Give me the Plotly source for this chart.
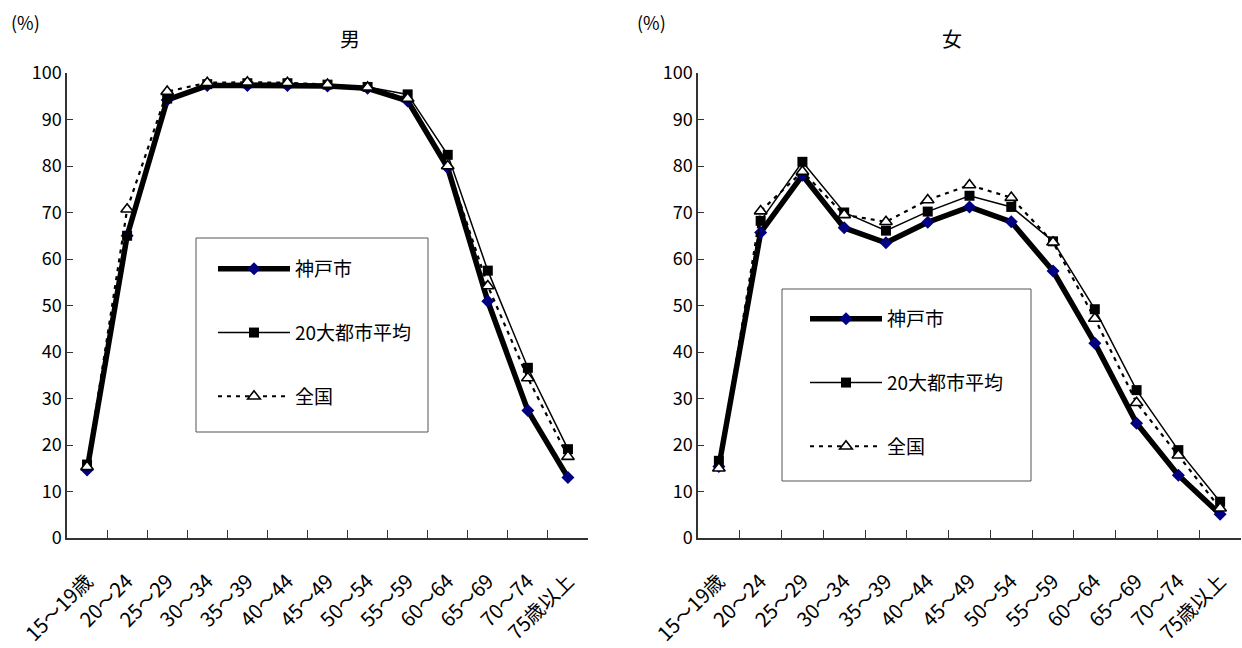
import plotly.graph_objects as go

# Age groups (x categories)
age_groups = ["15～19歳", "20～24", "25～29", "30～34", "35～39", "40～44", "45～49",
              "50～54", "55～59", "60～64", "65～69", "70～74", "75歳以上"]

# Labour force participation rate (%) - men
male_kobe = [14.6, 65.0, 94.2, 97.3, 97.3, 97.3, 97.2, 96.7, 94.0, 79.6, 50.9, 27.4, 13.0]
male_city20 = [15.8, 65.0, 94.5, 97.6, 97.8, 97.8, 97.5, 97.0, 95.4, 82.4, 57.5, 36.6, 19.1]
male_japan = [15.3, 70.7, 96.0, 97.9, 98.0, 97.9, 97.5, 96.9, 94.5, 80.0, 54.2, 34.4, 17.5]

# Labour force participation rate (%) - women
female_kobe = [15.4, 65.7, 78.0, 66.7, 63.5, 67.9, 71.2, 68.0, 57.4, 41.9, 24.7, 13.5, 5.1]
female_city20 = [16.6, 68.2, 80.9, 70.0, 66.1, 70.2, 73.6, 71.2, 63.8, 49.2, 31.8, 18.9, 7.8]
female_japan = [15.0, 70.3, 78.8, 69.5, 68.0, 72.7, 75.9, 73.2, 63.6, 47.2, 29.1, 17.8, 6.4]

series_names = ["神戸市", "20大都市平均", "全国"]
y_ticks = list(range(0, 101, 10))

W, H = 1242, 648
FONT = "Noto Sans CJK JP, Liberation Sans, sans-serif"


def px_x(p):
    return p / W


def px_y(p):
    return 1 - p / H


styles = [
    dict(line=dict(color="black", width=5.5),
         marker=dict(symbol="diamond", size=10, color="#000080",
                     line=dict(color="#000080", width=0))),
    dict(line=dict(color="black", width=1.5),
         marker=dict(symbol="square", size=10, color="black",
                     line=dict(color="black", width=0))),
    dict(line=dict(color="black", width=2.2, dash="4px,5px"),
         marker=dict(symbol="triangle-up", size=11, color="white",
                     line=dict(color="black", width=1.6))),
]

fig = go.Figure()

panels = [
    ("x", "y", "legend", "m", [male_kobe, male_city20, male_japan]),
    ("x2", "y2", "legend2", "f", [female_kobe, female_city20, female_japan]),
]
for xa, ya, lg, tag, data in panels:
    for name, vals, st in zip(series_names, data, styles):
        fig.add_trace(go.Scatter(
            x=age_groups, y=vals, name=name, mode="lines+markers",
            xaxis=xa, yaxis=ya, legend=lg, legendgroup=tag + name,
            line=st["line"], marker=st["marker"], hoverinfo="x+y+name",
        ))

axis_common = dict(
    showline=True, linecolor="#333333", linewidth=1.5, showgrid=False, zeroline=False,
    ticks="inside", tickcolor="#333333", tickwidth=1, automargin=False,
    tickfont=dict(family=FONT, size=18, color="black"),
)
x_common = dict(axis_common, type="category", tickson="boundaries", ticklen=8,
                tickangle=-45, range=[-0.5, 12.5], categoryorder="array",
                categoryarray=age_groups, ticklabelstandoff=22,
                tickfont=dict(family=FONT, size=20, color="black"))
y_common = dict(axis_common, range=[0, 100], tickvals=y_ticks, ticklen=6)

y_dom = [px_y(538), px_y(73)]

legend_common = dict(
    font=dict(family=FONT, size=19, color="black"),
    bgcolor="rgba(0,0,0,0)", borderwidth=0, itemwidth=72,
    tracegroupgap=36, xanchor="left", yanchor="top", traceorder="grouped",
    itemclick=False, itemdoubleclick=False,
)


def label(text, x, y, size):
    return dict(text=text, x=px_x(x), y=px_y(y), xref="paper", yref="paper",
                xanchor="center", yanchor="middle", showarrow=False,
                font=dict(family=FONT, size=size, color="black"))


fig.update_layout(
    width=W, height=H,
    margin=dict(l=0, r=0, t=0, b=0, pad=0, autoexpand=False),
    paper_bgcolor="white", plot_bgcolor="white",
    font=dict(family=FONT, color="black"),
    xaxis=dict(x_common, domain=[px_x(67), px_x(588)], anchor="y"),
    yaxis=dict(y_common, domain=y_dom, anchor="x"),
    xaxis2=dict(x_common, domain=[px_x(698), px_x(1241)], anchor="y2"),
    yaxis2=dict(y_common, domain=y_dom, anchor="x2"),
    legend=dict(legend_common, x=px_x(213), y=px_y(250)),
    legend2=dict(legend_common, x=px_x(805), y=px_y(300)),
    shapes=[
        dict(type="rect", xref="paper", yref="paper",
             x0=px_x(196), x1=px_x(428), y0=px_y(432), y1=px_y(238),
             line=dict(color="#555555", width=1), fillcolor="white", layer="below"),
        dict(type="rect", xref="paper", yref="paper",
             x0=px_x(782), x1=px_x(1031), y0=px_y(481), y1=px_y(289),
             line=dict(color="#555555", width=1), fillcolor="white", layer="below"),
    ],
    annotations=[
        label("男", 350, 38, 20),
        label("女", 952, 38, 20),
        label("(%)", 25, 22, 18),
        label("(%)", 651, 22, 18),
    ],
    showlegend=True,
)

fig.write_html("out.html")
